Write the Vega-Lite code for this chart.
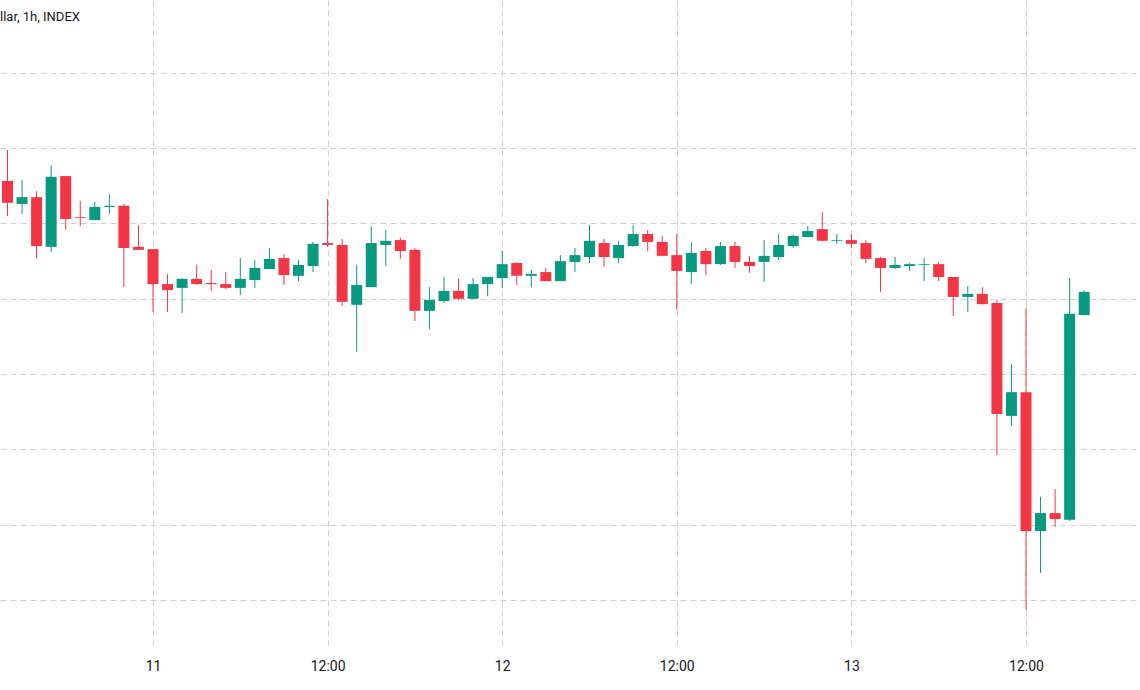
{
  "$schema": "https://vega.github.io/schema/vega-lite/v6.json",
  "width": 1140,
  "height": 645,
  "autosize": {"type": "none"},
  "padding": {"left": 0, "top": 0, "right": 0, "bottom": 45},
  "background": "white",
  "title": {"text": "llar, 1h, INDEX", "anchor": "start", "orient": "top", "frame": "group", "offset": -34, "baseline": "alphabetic", "font": "Roboto", "fontSize": 13, "fontWeight": "normal", "color": "#131722"},
  "data": {"values": [
    {"t": "2023-03-10T14:00:00", "o": 21113, "h": 21195, "l": 21020, "c": 21055},
    {"t": "2023-03-10T15:00:00", "o": 21052, "h": 21116, "l": 21025, "c": 21070},
    {"t": "2023-03-10T16:00:00", "o": 21070, "h": 21086, "l": 20906, "c": 20940},
    {"t": "2023-03-10T17:00:00", "o": 20938, "h": 21155, "l": 20924, "c": 21124},
    {"t": "2023-03-10T18:00:00", "o": 21126, "h": 21126, "l": 20983, "c": 21012},
    {"t": "2023-03-10T19:00:00", "o": 21017, "h": 21060, "l": 20993, "c": 21015},
    {"t": "2023-03-10T20:00:00", "o": 21009, "h": 21057, "l": 21009, "c": 21044},
    {"t": "2023-03-10T21:00:00", "o": 21044, "h": 21078, "l": 21025, "c": 21047},
    {"t": "2023-03-10T22:00:00", "o": 21047, "h": 21052, "l": 20831, "c": 20935},
    {"t": "2023-03-10T23:00:00", "o": 20938, "h": 20996, "l": 20930, "c": 20930},
    {"t": "2023-03-11T00:00:00", "o": 20932, "h": 20932, "l": 20765, "c": 20839},
    {"t": "2023-03-11T01:00:00", "o": 20839, "h": 20866, "l": 20765, "c": 20823},
    {"t": "2023-03-11T02:00:00", "o": 20829, "h": 20855, "l": 20762, "c": 20853},
    {"t": "2023-03-11T03:00:00", "o": 20853, "h": 20890, "l": 20837, "c": 20839},
    {"t": "2023-03-11T04:00:00", "o": 20842, "h": 20877, "l": 20821, "c": 20839},
    {"t": "2023-03-11T05:00:00", "o": 20839, "h": 20871, "l": 20826, "c": 20829},
    {"t": "2023-03-11T06:00:00", "o": 20829, "h": 20908, "l": 20810, "c": 20853},
    {"t": "2023-03-11T07:00:00", "o": 20850, "h": 20903, "l": 20829, "c": 20882},
    {"t": "2023-03-11T08:00:00", "o": 20879, "h": 20935, "l": 20879, "c": 20906},
    {"t": "2023-03-11T09:00:00", "o": 20908, "h": 20919, "l": 20837, "c": 20863},
    {"t": "2023-03-11T10:00:00", "o": 20861, "h": 20903, "l": 20847, "c": 20890},
    {"t": "2023-03-11T11:00:00", "o": 20887, "h": 20951, "l": 20871, "c": 20946},
    {"t": "2023-03-11T12:00:00", "o": 20948, "h": 21065, "l": 20938, "c": 20943},
    {"t": "2023-03-11T13:00:00", "o": 20943, "h": 20959, "l": 20781, "c": 20792},
    {"t": "2023-03-11T14:00:00", "o": 20784, "h": 20890, "l": 20659, "c": 20837},
    {"t": "2023-03-11T15:00:00", "o": 20831, "h": 20993, "l": 20831, "c": 20948},
    {"t": "2023-03-11T16:00:00", "o": 20943, "h": 20983, "l": 20887, "c": 20954},
    {"t": "2023-03-11T17:00:00", "o": 20956, "h": 20962, "l": 20906, "c": 20927},
    {"t": "2023-03-11T18:00:00", "o": 20930, "h": 20935, "l": 20741, "c": 20768},
    {"t": "2023-03-11T19:00:00", "o": 20768, "h": 20831, "l": 20720, "c": 20797},
    {"t": "2023-03-11T20:00:00", "o": 20794, "h": 20858, "l": 20789, "c": 20821},
    {"t": "2023-03-11T21:00:00", "o": 20821, "h": 20853, "l": 20797, "c": 20800},
    {"t": "2023-03-11T22:00:00", "o": 20800, "h": 20855, "l": 20800, "c": 20839},
    {"t": "2023-03-11T23:00:00", "o": 20839, "h": 20858, "l": 20807, "c": 20858},
    {"t": "2023-03-12T00:00:00", "o": 20855, "h": 20927, "l": 20829, "c": 20892},
    {"t": "2023-03-12T01:00:00", "o": 20895, "h": 20898, "l": 20837, "c": 20861},
    {"t": "2023-03-12T02:00:00", "o": 20861, "h": 20877, "l": 20831, "c": 20866},
    {"t": "2023-03-12T03:00:00", "o": 20871, "h": 20882, "l": 20847, "c": 20847},
    {"t": "2023-03-12T04:00:00", "o": 20847, "h": 20916, "l": 20847, "c": 20900},
    {"t": "2023-03-12T05:00:00", "o": 20898, "h": 20935, "l": 20871, "c": 20916},
    {"t": "2023-03-12T06:00:00", "o": 20911, "h": 20996, "l": 20895, "c": 20954},
    {"t": "2023-03-12T07:00:00", "o": 20948, "h": 20959, "l": 20885, "c": 20911},
    {"t": "2023-03-12T08:00:00", "o": 20908, "h": 20954, "l": 20895, "c": 20943},
    {"t": "2023-03-12T09:00:00", "o": 20940, "h": 20996, "l": 20938, "c": 20972},
    {"t": "2023-03-12T10:00:00", "o": 20972, "h": 20983, "l": 20927, "c": 20951},
    {"t": "2023-03-12T11:00:00", "o": 20951, "h": 20967, "l": 20914, "c": 20914},
    {"t": "2023-03-12T12:00:00", "o": 20916, "h": 20972, "l": 20770, "c": 20874},
    {"t": "2023-03-12T13:00:00", "o": 20871, "h": 20951, "l": 20839, "c": 20922},
    {"t": "2023-03-12T14:00:00", "o": 20927, "h": 20935, "l": 20863, "c": 20892},
    {"t": "2023-03-12T15:00:00", "o": 20892, "h": 20951, "l": 20890, "c": 20940},
    {"t": "2023-03-12T16:00:00", "o": 20940, "h": 20951, "l": 20882, "c": 20898},
    {"t": "2023-03-12T17:00:00", "o": 20898, "h": 20914, "l": 20869, "c": 20887},
    {"t": "2023-03-12T18:00:00", "o": 20898, "h": 20956, "l": 20845, "c": 20914},
    {"t": "2023-03-12T19:00:00", "o": 20911, "h": 20972, "l": 20903, "c": 20943},
    {"t": "2023-03-12T20:00:00", "o": 20940, "h": 20970, "l": 20935, "c": 20967},
    {"t": "2023-03-12T21:00:00", "o": 20964, "h": 20993, "l": 20964, "c": 20980},
    {"t": "2023-03-12T22:00:00", "o": 20985, "h": 21031, "l": 20954, "c": 20954},
    {"t": "2023-03-12T23:00:00", "o": 20954, "h": 20972, "l": 20946, "c": 20956},
    {"t": "2023-03-13T00:00:00", "o": 20956, "h": 20972, "l": 20935, "c": 20946},
    {"t": "2023-03-13T01:00:00", "o": 20948, "h": 20956, "l": 20895, "c": 20906},
    {"t": "2023-03-13T02:00:00", "o": 20908, "h": 20911, "l": 20818, "c": 20882},
    {"t": "2023-03-13T03:00:00", "o": 20882, "h": 20911, "l": 20879, "c": 20890},
    {"t": "2023-03-13T04:00:00", "o": 20887, "h": 20895, "l": 20874, "c": 20892},
    {"t": "2023-03-13T05:00:00", "o": 20890, "h": 20908, "l": 20847, "c": 20892},
    {"t": "2023-03-13T06:00:00", "o": 20892, "h": 20898, "l": 20847, "c": 20858},
    {"t": "2023-03-13T07:00:00", "o": 20858, "h": 20858, "l": 20754, "c": 20805},
    {"t": "2023-03-13T08:00:00", "o": 20805, "h": 20834, "l": 20765, "c": 20813},
    {"t": "2023-03-13T09:00:00", "o": 20813, "h": 20831, "l": 20784, "c": 20786},
    {"t": "2023-03-13T10:00:00", "o": 20789, "h": 20797, "l": 20385, "c": 20494},
    {"t": "2023-03-13T11:00:00", "o": 20489, "h": 20627, "l": 20462, "c": 20552},
    {"t": "2023-03-13T12:00:00", "o": 20552, "h": 20776, "l": 19973, "c": 20183},
    {"t": "2023-03-13T13:00:00", "o": 20183, "h": 20274, "l": 20072, "c": 20231},
    {"t": "2023-03-13T14:00:00", "o": 20231, "h": 20295, "l": 20194, "c": 20215},
    {"t": "2023-03-13T15:00:00", "o": 20213, "h": 20855, "l": 20210, "c": 20760},
    {"t": "2023-03-13T16:00:00", "o": 20757, "h": 20823, "l": 20757, "c": 20818}
  ]},
  "encoding": {
    "x": {
      "field": "t",
      "type": "temporal",
      "title": null,
      "scale": {"nice": false, "padding": 0, "domain": [
        {"year": 2023, "month": 3, "date": 10, "hours": 13, "minutes": 29, "seconds": 4},
        {"year": 2023, "month": 3, "date": 13, "hours": 19, "minutes": 50, "seconds": 6}
      ]},
      "axis": {
        "values": [
          {"year": 2023, "month": 3, "date": 10, "hours": 12},
          {"year": 2023, "month": 3, "date": 11, "hours": 0},
          {"year": 2023, "month": 3, "date": 11, "hours": 12},
          {"year": 2023, "month": 3, "date": 12, "hours": 0},
          {"year": 2023, "month": 3, "date": 12, "hours": 12},
          {"year": 2023, "month": 3, "date": 13, "hours": 0},
          {"year": 2023, "month": 3, "date": 13, "hours": 12}
        ],
        "labelExpr": "hours(datum.value) == 0 ? timeFormat(datum.value, '%-d') : '12:00'",
        "grid": true,
        "gridColor": "#d0d0d0",
        "gridDash": [6, 4],
        "gridWidth": 1,
        "domain": false,
        "ticks": false,
        "tickSize": 0,
        "labelPadding": 14,
        "labelFont": "Roboto",
        "labelFontSize": 14,
        "labelColor": "#131722",
        "labelOverlap": false,
        "labelBound": false,
        "labelFlush": false
      }
    }
  },
  "layer": [
    {
      "mark": {"type": "rule", "strokeWidth": 1},
      "encoding": {
        "y": {
          "field": "l",
          "type": "quantitative",
          "title": null,
          "scale": {"domain": [19880.5, 21593.6], "zero": false, "nice": false},
          "axis": {
            "values": [20000, 20200, 20400, 20600, 20800, 21000, 21200, 21400],
            "grid": true,
            "gridColor": "#d0d0d0",
            "gridDash": [6, 4],
            "gridWidth": 1,
            "labels": false,
            "ticks": false,
            "domain": false
          }
        },
        "y2": {"field": "h"},
        "color": {"condition": {"test": "datum.c >= datum.o", "value": "#089981"}, "value": "#F23645"}
      }
    },
    {
      "mark": {"type": "bar", "width": 11},
      "encoding": {
        "y": {"field": "o", "type": "quantitative"},
        "y2": {"field": "c"},
        "color": {"condition": {"test": "datum.c >= datum.o", "value": "#089981"}, "value": "#F23645"}
      }
    }
  ],
  "config": {"view": {"stroke": null}}
}
